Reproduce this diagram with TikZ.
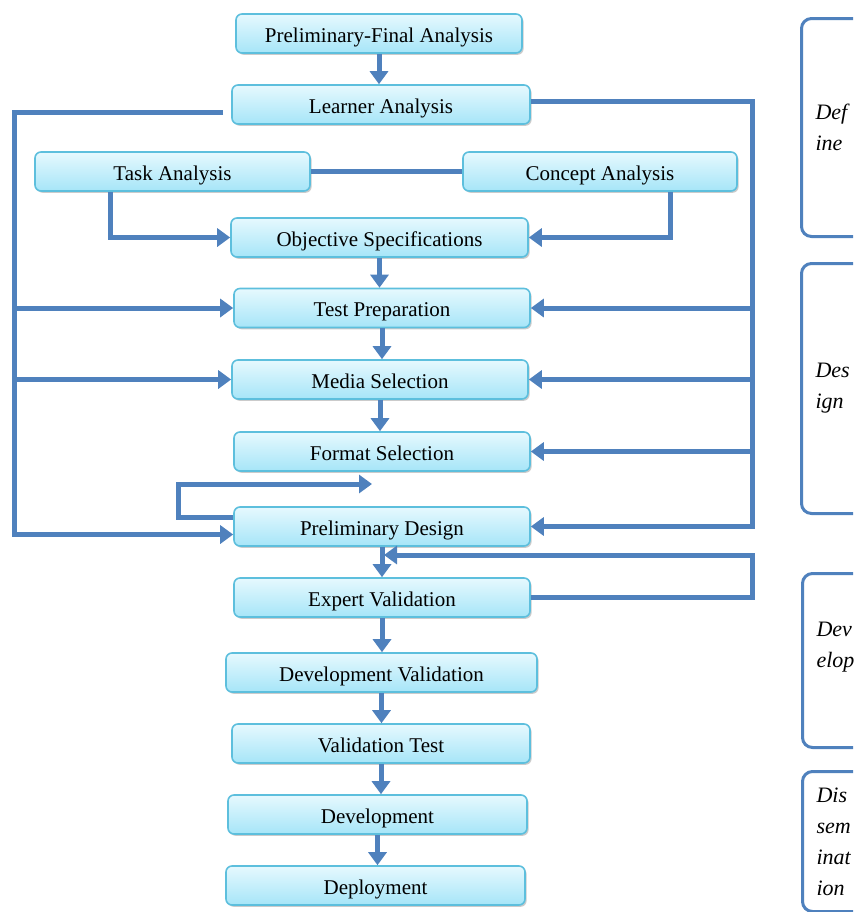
\documentclass[tikz,border=0pt]{standalone}
\usepackage{fontspec}
\setmainfont{Liberation Serif}
\usepackage{xcolor}
\usetikzlibrary{arrows.meta,positioning,calc,shadows}
\definecolor{flowblue}{HTML}{4F81BD}
\definecolor{boxedge}{HTML}{5DBFDD}
\definecolor{boxtop}{HTML}{E6F9FE}
\definecolor{boxbot}{HTML}{A6E5F8}

\tikzset{
  stage/.style={draw=boxedge, line width=0.8pt, rounded corners=3pt,
    top color=boxtop, bottom color=boxbot, minimum height=19.5pt, inner sep=0pt,
    text height=10pt, text depth=1.5pt,
    font=\fontsize{10.5}{12}\selectfont,
    drop shadow={shadow xshift=0.8pt, shadow yshift=-0.9pt, fill=black!45, opacity=0.45}},
  link/.style={draw=flowblue, line width=2.5pt},
  flow/.style={link, -{Triangle[width=9pt,length=6.5pt]}},
  phase/.style={draw=flowblue, line width=1.5pt, rounded corners=5pt, fill=white,
    anchor=north west, text width=32pt, align=left, inner xsep=7pt,
    font=\itshape\fontsize{11}{15.5}\selectfont}
}

\begin{document}
\begin{tikzpicture}[x=0.5pt, y=-0.5pt]
  \useasboundingbox (0,0) rectangle (853,912);
  \clip (0,0) rectangle (853,912);
  \coordinate (lx) at (14,0);
  \coordinate (rx) at (752,0);
  % stages
  \node[stage, minimum width=143pt]   (pfa)       at (379,33.5)   {Preliminary-Final Analysis};
  \node[stage, minimum width=149pt]   (learner)   at (381,104.5)  {Learner Analysis};
  \node[stage, minimum width=137.5pt] (task)      at (172.5,171.5) {Task Analysis};
  \node[stage, minimum width=137pt]   (concept)   at (600,171.5)  {Concept Analysis};
  \node[stage, minimum width=148.5pt] (objective) at (379.5,237.5) {Objective Specifications};
  \node[stage, minimum width=148pt]   (testprep)  at (382,308)    {Test Preparation};
  \node[stage, minimum width=148pt]   (media)     at (380,379.5)  {Media Selection};
  \node[stage, minimum width=148pt]   (format)    at (382,451.5)  {Format Selection};
  \node[stage, minimum width=148pt]   (prelim)    at (382,526.5)  {Preliminary Design};
  \node[stage, minimum width=148pt]   (expert)    at (382,597.5)  {Expert Validation};
  \node[stage, minimum width=155.5pt] (devval)    at (381.5,672.5) {Development Validation};
  \node[stage, minimum width=149pt]   (valtest)   at (381,743.5)  {Validation Test};
  \node[stage, minimum width=149.5pt] (develop)   at (377.5,814.5) {Development};
  \node[stage, minimum width=149.5pt] (deploy)    at (375.5,885.5) {Deployment};
  % phases
  \node[phase, minimum height=109pt] (phdefine)  at (800,17)  {Def\\ine};
  \node[phase, minimum height=125pt] (phdesign)  at (800,262) {Des\\ign};
  \node[phase, minimum height=87pt]  (phdevelop) at (801,572) {Dev\\elop\\\mbox{}};
  \node[phase, minimum height=70pt]  (phdissem)  at (801,770) {Dis\\sem\\inat\\ion};
  % main column
  \foreach \a/\b in {pfa/learner, objective/testprep, testprep/media, media/format,
                     prelim/expert, expert/devval, devval/valtest, valtest/develop, develop/deploy}
    \draw[flow] (\a.south) -- (\a.south |- \b.north);
  % analysis pair
  \draw[link] (task.east) -- (concept.west);
  \draw[flow] ([xshift=-31pt]task.south) |- (objective.west);
  \draw[flow] ([xshift=35pt]concept.south) |- (objective.east);
  % left feed
  \draw[flow] ([xshift=-4pt,yshift=-4pt]learner.west) -| ([yshift=-4pt]lx |- prelim.west) -- ([yshift=-4pt]prelim.west);
  \foreach \n in {testprep, media}
    \draw[flow] (lx |- \n.west) -- (\n.west);
  % right feed
  \draw[flow] ([yshift=1.5pt]learner.east) -| (rx |- prelim.east) -- (prelim.east);
  \foreach \n in {testprep, media, format}
    \draw[flow] (rx |- \n.east) -- (\n.east);
  % revision loops
  \coordinate (loopend) at (372,484);
  \draw[flow] ([yshift=4.5pt]prelim.west) -- ++(-27.5pt,0) |- (loopend);
  \coordinate (fbend) at (384,555);
  \draw[flow] (expert.east) -| (rx |- fbend) -- (fbend);
\end{tikzpicture}
\end{document}
